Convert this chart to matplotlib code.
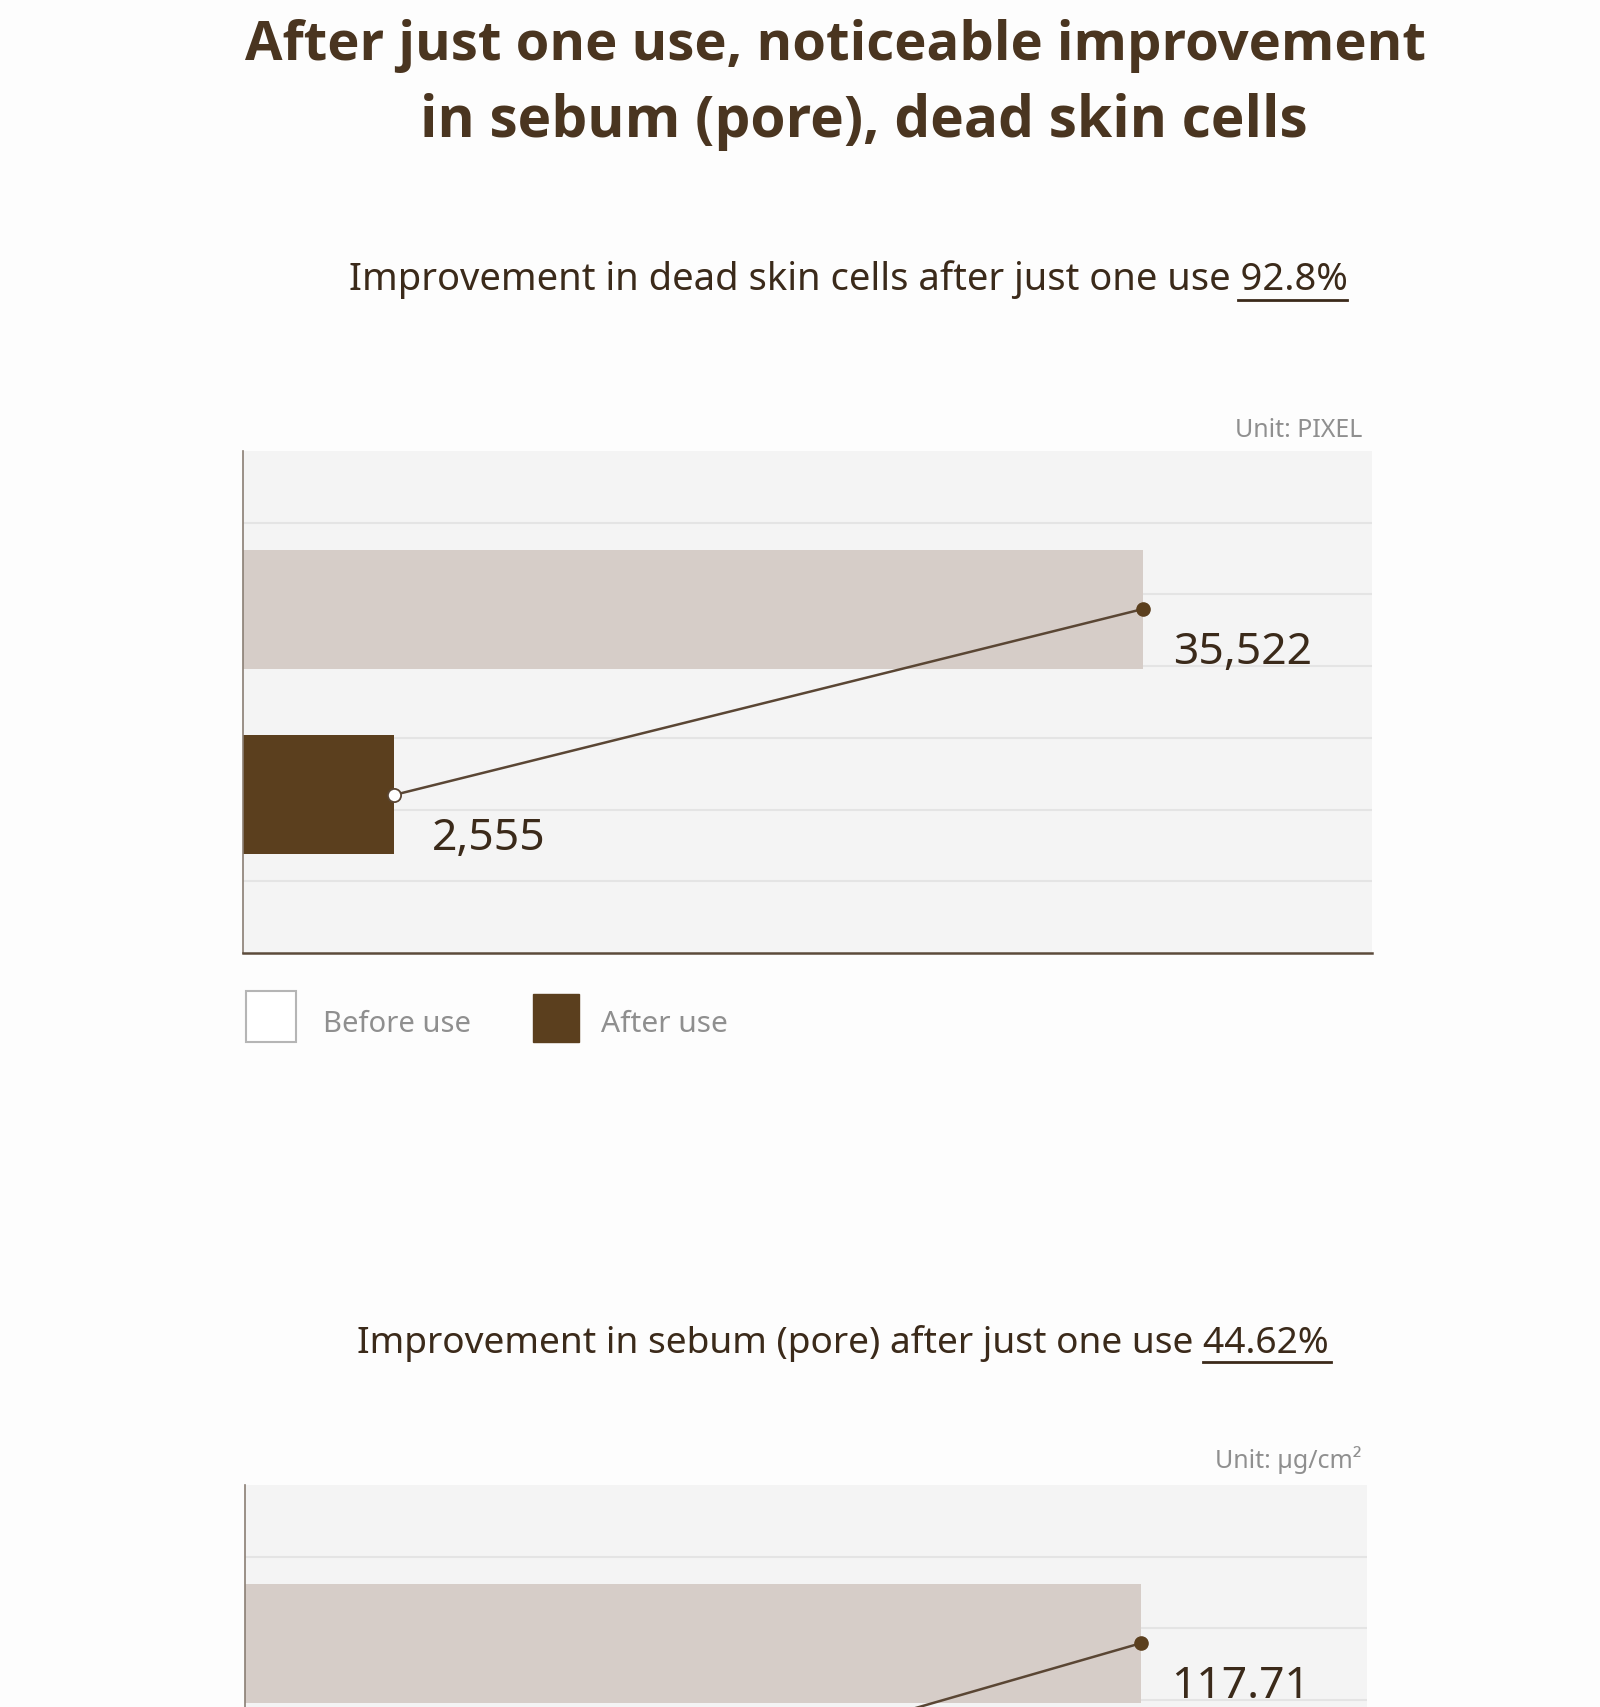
import matplotlib
matplotlib.use("Agg")
import matplotlib.pyplot as plt
import numpy as np
from matplotlib.patches import Rectangle
from matplotlib.lines import Line2D

plt.rcParams['font.family'] = ['Noto Sans', 'DejaVu Sans']

# ---- data ----
title_lines = ["After just one use, noticeable improvement",
               "in sebum (pore), dead skin cells"]
legend_labels = ["Before use", "After use"]

dead_skin_subtitle = "Improvement in dead skin cells after just one use"
dead_skin_pct = "92.8%"
dead_skin_unit = "Unit: PIXEL"
dead_skin_values = [35522, 2555]          # before, after

sebum_subtitle = "Improvement in sebum (pore) after just one use"
sebum_pct = "44.62%"
sebum_unit = "Unit: µg/cm²"
sebum_values = [117.71, 65.19]            # before, after (after is cut off)

# ---- colours ----
bg = '#fdfdfd'
panel = '#f4f4f4'
grid_c = '#e4e4e4'
before_c = '#d6cdc8'
after_c = '#5b3f1e'
line_c = '#5a4634'
title_c = '#4a3520'
text_c = '#3b2a1a'
grey_c = '#8f8f8f'

W, H = 1600, 1707
fig = plt.figure(figsize=(W / 100, H / 100), dpi=100, facecolor=bg)
renderer = fig.canvas.get_renderer()


def fx(px):
    return px / W


def fy(py):
    return 1 - py / H


def fit(t, width):
    w = t.get_window_extent(renderer).width
    t.set_fontsize(t.get_fontsize() * width / w)
    return t


# title, each line placed on its own
bold_fam = ['Open Sans', 'Noto Sans', 'DejaVu Sans']
fit(fig.text(fx(245), fy(60), title_lines[0], fontsize=40, fontweight='bold',
             family=bold_fam, color=title_c, va='baseline'), 1423 - 245)
fit(fig.text(fx(420), fy(137), title_lines[1], fontsize=40, fontweight='bold',
             family=bold_fam, color=title_c, va='baseline'), 1307 - 420)


def subtitle(left, right, base, uline, head, pct):
    t = fit(fig.text(fx(left), fy(base), head + " " + pct, fontsize=30,
                     color=text_c, va='baseline'), right - left)
    tmp = fig.text(0, 0, pct, fontsize=t.get_fontsize())
    wp = tmp.get_window_extent(renderer).width
    tmp.remove()
    fig.add_artist(Line2D([fx(right - wp), fx(right + 2)], [fy(uline)] * 2,
                          transform=fig.transFigure, color=text_c, lw=2))


subtitle(349, 1345, 290, 300, dead_skin_subtitle, dead_skin_pct)
subtitle(357, 1329, 1353, 1362, sebum_subtitle, sebum_pct)

fig.text(fx(1362), fy(437), dead_skin_unit, fontsize=18, color=grey_c,
         ha='right', va='baseline')
fig.text(fx(1362), fy(1468), sebum_unit, fontsize=18, color=grey_c,
         ha='right', va='baseline')


def draw_chart(ax, values, p, frac, fmt, n_labels=2):
    fwd = lambda x: np.sign(x) * np.abs(x) ** p
    inv = lambda y: np.sign(y) * np.abs(y) ** (1 / p)
    ax.set_xscale('function', functions=(fwd, inv))
    ax.set_xlim(0, inv(fwd(values[0]) / frac))
    ax.set_ylim(-0.85, 1.85)
    ax.set_facecolor(panel)
    ypos = [1, 0]
    ax.barh(ypos, values, height=0.64, color=[before_c, after_c], zorder=2)
    ax.plot(values, ypos, color=line_c, lw=1.8, zorder=3)
    ax.plot(values[0], ypos[0], 'o', ms=9.5, mfc=after_c, mec=after_c, zorder=4)
    ax.plot(values[1], ypos[1], 'o', ms=9.5, mfc='white', mec=line_c, mew=1.3,
            zorder=4)
    for v, y, dx in list(zip(values, ypos, [30, 38]))[:n_labels]:
        ax.annotate(fmt(v), (v, y), xytext=(dx, -55), textcoords='offset pixels',
                    ha='left', va='baseline', fontsize=32, color=text_c,
                    zorder=5)
    ax.set_yticks(np.linspace(-0.85, 1.85, 8)[1:-1])
    ax.set_xticks([])
    ax.yaxis.grid(True, color=grid_c, lw=1.5)
    ax.set_axisbelow(True)
    ax.tick_params(left=False, bottom=False, labelleft=False, labelbottom=False)
    for s in ['top', 'right']:
        ax.spines[s].set_visible(False)
    ax.spines['left'].set_color('#8a7e74')
    ax.spines['left'].set_linewidth(1.2)
    ax.spines['bottom'].set_color('#5c4b3b')
    ax.spines['bottom'].set_linewidth(1.8)


ax1 = fig.add_axes([fx(243), fy(953), (1372 - 243) / W, 502 / H])
draw_chart(ax1, dead_skin_values, 0.678, 0.797, lambda v: f"{v:,}")

# the second chart runs off the bottom of the picture; its "after" label is not visible
ax2 = fig.add_axes([fx(245), fy(1987), (1367 - 245) / W, 502 / H])
draw_chart(ax2, sebum_values, 2.16, 0.799, lambda v: f"{v:.2f}", n_labels=1)

# legend under the first chart
fig.add_artist(Rectangle((fx(246), fy(1042)), 50 / W, 51 / H,
                         transform=fig.transFigure, facecolor='white',
                         edgecolor='#b5b5b5', lw=1.5))
fig.add_artist(Rectangle((fx(533), fy(1042)), 46 / W, 48 / H,
                         transform=fig.transFigure, facecolor=after_c,
                         edgecolor=after_c, lw=1))
fit(fig.text(fx(323), fy(1032), legend_labels[0], fontsize=24, color=grey_c,
             va='baseline'), 148)
fit(fig.text(fx(601), fy(1032), legend_labels[1], fontsize=24, color=grey_c,
             va='baseline'), 127)

fig.savefig("out.png", dpi=100, facecolor=bg)
